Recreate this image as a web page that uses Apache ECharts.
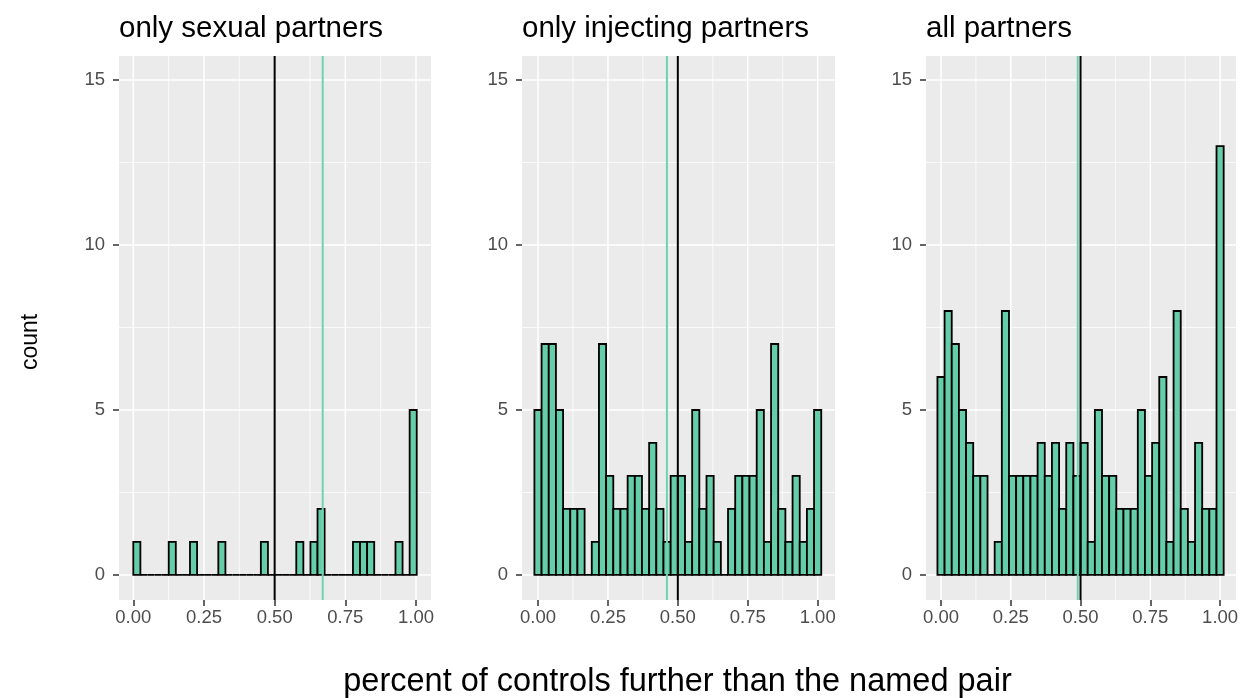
<!DOCTYPE html>
<html>
<head>
<meta charset="utf-8">
<script src="https://cdn.jsdelivr.net/npm/echarts@6/dist/echarts.min.js"></script>
<style>
  html, body { margin: 0; padding: 0; background: #fff; }
  #chart { width: 1243px; height: 698px; }
</style>
</head>
<body>
<div id="chart"></div>
<script>
// ---------- data ----------
const panelTitles = ['only sexual partners', 'only injecting partners', 'all partners'];
// histogram counts, 40 bins per panel
const sexualCounts = [1,0,0,0,0,1,0,0,1,0, 0,0,1,0,0,0,0,0,1,0, 0,0,0,1,0,1,2,0,0,0, 0,1,1,1,0,0,0,1,0,5];
const injectingCounts = [5,7,7,5,2,2,2,0,1,7, 3,2,2,3,3,2,4,2,1,3, 3,1,5,2,3,1,0,2,3,3, 3,5,1,7,2,1,3,1,2,5];
const allCounts = [6,8,7,5,4,3,3,0,1,8, 3,3,3,3,4,3,4,2,4,3, 4,1,5,3,3,2,2,2,5,3, 4,6,1,8,2,1,4,2,2,13];
// centre of first and last bin for each panel
const sexualBinRange = [0.0125, 0.990];
const injectingBinRange = [0, 1];
const allBinRange = [0, 1];
// vertical reference lines: [green, black]
const sexualLines = [0.67, 0.5];
const injectingLines = [0.461, 0.5];
const allLines = [0.49, 0.5];
// axis ticks
const xTicks = [0, 0.25, 0.5, 0.75, 1];
const xMinor = [0.125, 0.375, 0.625, 0.875];
const yTicks = [0, 5, 10, 15];
const yMinor = [2.5, 7.5, 12.5];
const xTickLabels = ['0.00', '0.25', '0.50', '0.75', '1.00'];
const xAxisTitle = 'percent of controls further than the named pair';
const yAxisTitle = 'count';

// ---------- layout ----------
const FONT = '"Liberation Sans", Arial, sans-serif';
const FILL = '#66CDAA';
const GREEN = '#6FD3B0';
const Y_MIN = -0.76, Y_MAX = 15.73;
const panels = [
  { counts: sexualCounts, range: sexualBinRange, lines: sexualLines, left: 119, width: 312, xmin: -0.0506, xmax: 1.053 },
  { counts: injectingCounts, range: injectingBinRange, lines: injectingLines, left: 522, width: 313, xmin: -0.0572, xmax: 1.062 },
  { counts: allCounts, range: allBinRange, lines: allLines, left: 926, width: 310, xmin: -0.0538, xmax: 1.057 }
];

function binsOf(p) {
  const n = p.counts.length;
  const w = (p.range[1] - p.range[0]) / (n - 1);
  return p.counts.map((c, i) => {
    const centre = p.range[0] + i * w;
    return [centre - w / 2, centre + w / 2, c];
  });
}

const grids = [], xAxes = [], yAxes = [], series = [], titles = [];
panels.forEach((p, k) => {
  grids.push({ left: p.left, top: 56, width: p.width, height: 544, show: true,
    backgroundColor: '#EBEBEB', borderWidth: 0, containLabel: false });
  xAxes.push({
    type: 'value', gridIndex: k, min: p.xmin, max: p.xmax, position: 'bottom',
    splitLine: { show: false }, axisLine: { show: false, onZero: false },
    axisTick: { show: true, length: 6, customValues: xTicks, lineStyle: { color: '#333333', width: 1.5 } },
    axisLabel: { show: true, customValues: xTicks, margin: 8, color: '#4D4D4D', fontSize: 18.5, fontFamily: FONT,
      formatter: v => { const i = xTicks.indexOf(v); return i >= 0 ? xTickLabels[i] : ''; } }
  });
  yAxes.push({
    type: 'value', gridIndex: k, min: Y_MIN, max: Y_MAX, position: 'left',
    splitLine: { show: false }, axisLine: { show: false, onZero: false },
    axisTick: { show: true, length: 6, customValues: yTicks, lineStyle: { color: '#333333', width: 1.5 } },
    axisLabel: { show: true, customValues: yTicks, margin: 14, color: '#4D4D4D', fontSize: 18.5, fontFamily: FONT }
  });
  titles.push({ text: panelTitles[k], left: p.left, top: 14, padding: 0,
    textStyle: { fontSize: 29.5, fontWeight: 'normal', color: '#000', fontFamily: FONT } });

  // grid lines
  const gl = [];
  xMinor.forEach(v => gl.push([v, 0, 0.75]));
  yMinor.forEach(v => gl.push([v, 1, 0.75]));
  xTicks.forEach(v => gl.push([v, 0, 1.5]));
  yTicks.forEach(v => gl.push([v, 1, 1.5]));
  series.push({
    type: 'custom', xAxisIndex: k, yAxisIndex: k, silent: true, z: 1, clip: false,
    data: gl,
    renderItem: (params, api) => {
      const v = api.value(0), horiz = api.value(1) === 1, w = api.value(2);
      let a, b;
      if (horiz) { a = api.coord([p.xmin, v]); b = api.coord([p.xmax, v]); }
      else { a = api.coord([v, Y_MIN]); b = api.coord([v, Y_MAX]); }
      return { type: 'line', shape: { x1: a[0], y1: a[1], x2: b[0], y2: b[1] },
        style: { stroke: '#FFFFFF', lineWidth: w } };
    },
    encode: { x: 0, y: 0 }
  });

  // histogram bars
  series.push({
    type: 'custom', xAxisIndex: k, yAxisIndex: k, z: 3, clip: false,
    data: binsOf(p),
    encode: { x: [0, 1], y: 2 },
    renderItem: (params, api) => {
      const a = api.coord([api.value(0), 0]);
      const b = api.coord([api.value(1), api.value(2)]);
      return { type: 'rect', shape: { x: a[0], y: b[1], width: b[0] - a[0], height: a[1] - b[1] },
        style: { fill: FILL, stroke: '#000', lineWidth: 1.8 } };
    }
  });

  // reference lines (green first, black on top)
  series.push({
    type: 'custom', xAxisIndex: k, yAxisIndex: k, z: 5, silent: true, clip: false,
    data: [[p.lines[0], 0], [p.lines[1], 1]],
    encode: { x: 0, y: 1 },
    renderItem: (params, api) => {
      const x = api.value(0);
      const a = api.coord([x, Y_MIN]), b = api.coord([x, Y_MAX]);
      return { type: 'line', shape: { x1: a[0], y1: a[1], x2: b[0], y2: b[1] },
        style: { stroke: api.value(1) === 0 ? GREEN : '#000', lineWidth: 2 } };
    }
  });
});

const chart = echarts.init(document.getElementById('chart'), null, { renderer: 'canvas' });
chart.setOption({
  animation: false,
  backgroundColor: '#FFFFFF',
  title: titles,
  grid: grids,
  xAxis: xAxes,
  yAxis: yAxes,
  series: series,
  graphic: [
    { type: 'text', x: 677.5, y: 666,
      style: { text: xAxisTitle, fontSize: 32.5, fill: '#000', fontFamily: FONT, align: 'center' } },
    { type: 'text', x: 19, y: 370, rotation: Math.PI / 2,
      style: { text: yAxisTitle, fontSize: 23, fill: '#000', fontFamily: FONT } }
  ]
});
</script>
</body>
</html>
